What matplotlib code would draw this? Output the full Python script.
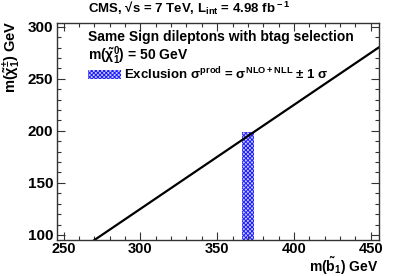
import matplotlib
matplotlib.use('Agg')
import matplotlib.pyplot as plt
from matplotlib.patches import Rectangle
from matplotlib.ticker import MultipleLocator

plt.rcParams['font.family'] = ['Liberation Sans', 'DejaVu Sans']
plt.rcParams['font.weight'] = 'bold'
plt.rcParams['mathtext.fontset'] = 'custom'
plt.rcParams['mathtext.rm'] = 'Liberation Sans:bold'
plt.rcParams['mathtext.it'] = 'Liberation Sans:bold'
plt.rcParams['mathtext.bf'] = 'Liberation Sans:bold'
plt.rcParams['mathtext.sf'] = 'Liberation Sans:bold'
plt.rcParams['hatch.linewidth'] = 0.7

# --- data ---
# kinematic limit: m(chi1+-) = m(b1) - m(top)
line_mb = [270, 455]
line_mchi = [95, 280]
# excluded band
excl_mb = [366, 374]
excl_mchi = [95, 199]

x_range = [246, 455]
y_range = [95, 304]
x_ticks = [250, 300, 350, 400, 450]
y_ticks = [100, 150, 200, 250, 300]

fig = plt.figure(figsize=(4.07, 2.76), dpi=100)
ax = fig.add_axes([0.141, 0.130, 0.789, 0.788])

ax.bar((excl_mb[0] + excl_mb[1]) / 2, excl_mchi[1] - excl_mchi[0],
       width=excl_mb[1] - excl_mb[0], bottom=excl_mchi[0],
       facecolor='#c8c8ff', edgecolor='#2020ff', hatch='xxxxxxxx', linewidth=0)
ax.plot(line_mb, line_mchi, color='black', lw=1.6)

ax.set_xlim(x_range)
ax.set_ylim(y_range)
ax.set_xticks(x_ticks)
ax.set_yticks(y_ticks)
ax.xaxis.set_minor_locator(MultipleLocator(10))
ax.yaxis.set_minor_locator(MultipleLocator(10))
ax.tick_params(which='both', direction='in', top=True, right=True,
               labelsize=11, width=0.8, color='#333333')
ax.tick_params(which='major', length=6, pad=3)
ax.tick_params(axis='x', which='major', pad=1, labelsize=10.5)
ax.tick_params(which='minor', length=3)
for lab in ax.get_xticklabels() + ax.get_yticklabels():
    lab.set_fontweight('bold')
for s in ax.spines.values():
    s.set_linewidth(1.0)
    s.set_color('#333333')

fig.text(0.215, 0.968, 'CMS, \u221as = 7 TeV, L$_{\\rm int}$ = 4.98 fb$^{\\rm -1}$',
         fontsize=9.5, fontweight='bold', ha='left', va='center')

fig.text(0.93, -0.004, r'm($\tilde{\rm b}_{\rm 1}$) GeV', fontsize=10,
         fontweight='bold', ha='right', va='bottom')
fig.text(0.03, 0.925, r'm($\tilde{\chi}^{\pm}_{\rm 1}$) GeV', fontsize=10.5,
         fontweight='bold', ha='center', va='top', rotation=90)

ax.text(0.094, 0.935, 'Same Sign dileptons with btag selection',
        transform=ax.transAxes, fontsize=10, fontweight='bold', va='center')
ax.text(0.094, 0.85, r'm($\tilde{\chi}^{\rm 0}_{\rm 1}$) = 50 GeV',
        transform=ax.transAxes, fontsize=10, fontweight='bold', va='center')
ax.add_patch(Rectangle((0.094, 0.74), 0.105, 0.04, transform=ax.transAxes,
                       facecolor='#c8c8ff', edgecolor='#2020ff', hatch='xxxxxxxx',
                       linewidth=0))
ax.text(0.207, 0.762, r'Exclusion $\sigma^{\rm prod}$ = $\sigma^{\rm NLO+NLL}$ $\pm$ 1 $\sigma$',
        transform=ax.transAxes, fontsize=9.5, fontweight='bold', va='center')

fig.savefig('out.png', dpi=100)
